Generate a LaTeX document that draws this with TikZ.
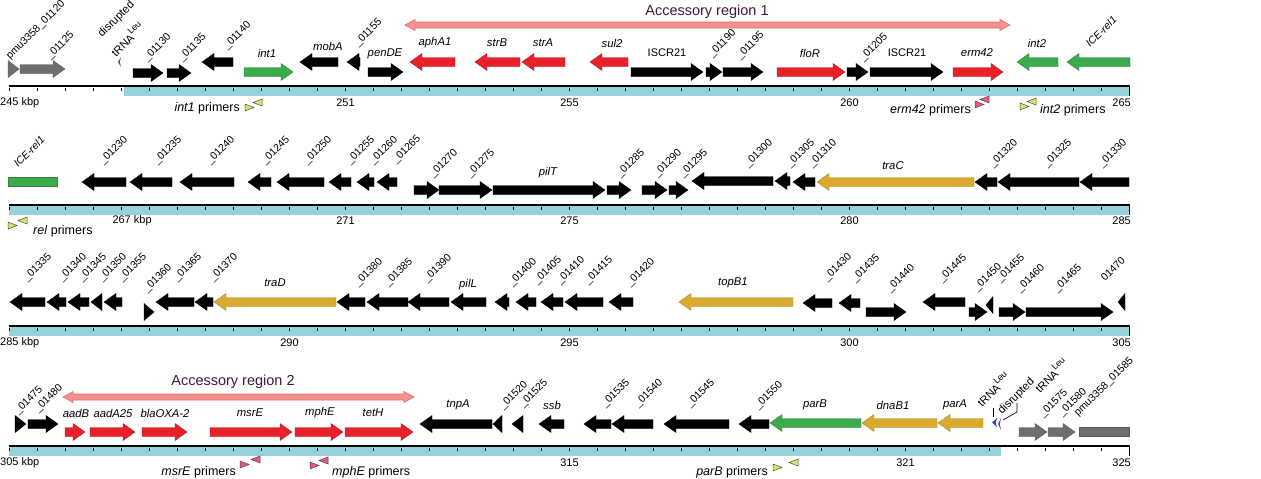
\documentclass[tikz,border=0pt]{standalone}
\usepackage{fontspec}
\setmainfont{Liberation Sans}
\usetikzlibrary{calc}

\definecolor{gred}{HTML}{E8202A}
\definecolor{ggreen}{HTML}{3BAA48}
\definecolor{ggold}{HTML}{D9AA2F}
\definecolor{ggray}{HTML}{6E6E6E}
\definecolor{band}{HTML}{97D1DA}
\definecolor{accfill}{HTML}{F39090}
\definecolor{accdraw}{HTML}{EC6A6A}
\definecolor{acctext}{HTML}{44163F}
\definecolor{primgreen}{HTML}{D2E46A}
\definecolor{primpink}{HTML}{E8557E}
\definecolor{trnablue}{HTML}{1F4FB5}
\definecolor{trnapurple}{HTML}{7A2FA0}

% forward gene: from, to, y, colour
\newcommand{\genefwd}[4]{%
  \pgfmathsetmacro{\hx}{max(#1,#2-12)}
  \filldraw[fill=#4, draw=#4!80!black, line width=0.4pt] (#1,#3-4.5) -- (\hx,#3-4.5) -- (\hx,#3-8.5) -- (#2,#3)
    -- (\hx,#3+8.5) -- (\hx,#3+4.5) -- (#1,#3+4.5) -- cycle;}
% reverse gene: tip, tail, y, colour
\newcommand{\generev}[4]{%
  \pgfmathsetmacro{\hx}{min(#2,#1+12)}
  \filldraw[fill=#4, draw=#4!80!black, line width=0.4pt] (#2,#3-4.5) -- (\hx,#3-4.5) -- (\hx,#3-8.5) -- (#1,#3)
    -- (\hx,#3+8.5) -- (\hx,#3+4.5) -- (#2,#3+4.5) -- cycle;}
% axis: y, band start, band end
\newcommand{\genomeaxis}[3]{%
  \fill[band] (#2,#1+0.6) rectangle (#3,#1+10);
  \draw[line width=1.2pt] (8.5,#1) -- (1130,#1);
  \foreach \i in {0,...,40} \draw[line width=0.7pt] (9.5+28*\i,#1+2) -- (9.5+28*\i,#1+4.5);
  \draw[line width=0.8pt] (1129.5,#1-1.5) -- (1129.5,#1+10);}
% accessory region arrow: x1, x2, y
\newcommand{\accregion}[3]{%
  \filldraw[fill=accfill, draw=accdraw, line width=0.6pt] (#1,#3) -- (#1+10,#3-5.5) -- (#1+10,#3-3) -- (#2-10,#3-3)
    -- (#2-10,#3-5.5) -- (#2,#3) -- (#2-10,#3+5.5) -- (#2-10,#3+3) -- (#1+10,#3+3) -- (#1+10,#3+5.5) -- cycle;}
% primer pair: left edge, right edge, y, colour
\newcommand{\primerpair}[4]{%
  \filldraw[fill=#4, draw=black!70, line width=0.5pt] (#1,#3) -- (#1,#3+7) -- (#1+9,#3+3.5) -- cycle;
  \filldraw[fill=#4, draw=black!70, line width=0.5pt] (#2,#3-5) -- (#2,#3+2) -- (#2-9,#3-1.5) -- cycle;}
\newcommand{\leu}{\raisebox{0.5em}{\fontsize{8.8}{10}\selectfont Leu}}

\begin{document}
\begin{tikzpicture}[x=1pt, y=-1pt,
    locus/.style={rotate=45, anchor=base west, inner sep=0pt, font=\fontsize{10.5}{12}\selectfont},
    trnalabel/.style={locus, font=\fontsize{11.2}{13}\selectfont},
    genelabel/.style={inner sep=0pt, font=\fontsize{11.3}{13}\selectfont\itshape},
    plainlabel/.style={inner sep=0pt, font=\fontsize{11}{13}\selectfont},
    primerlabel/.style={inner sep=0pt, font=\fontsize{12.5}{15}\selectfont},
    regionlabel/.style={inner sep=0pt, text=acctext, font=\fontsize{14.5}{17}\selectfont}]

  \useasboundingbox (0,0) rectangle (1261,479);

  \genomeaxis{86}{124}{1129.5}
  \genomeaxis{205}{8.5}{1129.5}
  \genomeaxis{326}{8.5}{1129.5}
  \genomeaxis{446}{8.5}{1001}

  \foreach \a/\b/\y/\c in {8/19/69/ggray, 20/65/69/ggray, 133/163/73/black, 167/191/73/black, 244/293/72/ggreen,
      368/403/72/black, 631/703/72/black, 706/722/72/black, 723/763/72/black, 777/845/72/gred, 847/868/72/black,
      870/943/72/black, 953/1003/72/gred,
      414/439/190/black, 439/492/190/black, 493/605/190/black, 607/631/190/black, 642/667/190/black, 669/688/190/black,
      144/154/312/black, 866/906/312/black, 969/987/312/black, 999/1025/312/black, 1026/1113/312/black,
      15/26/424/black, 28/58/424/black, 65/85/432/gred, 90/135/432/gred, 142/187/432/gred, 210/292/432/gred,
      295/343/432/gred, 345/413/432/gred, 1019/1047/432/ggray, 1048/1075/432/ggray}
    \genefwd{\a}{\b}{\y}{\c};

  \foreach \a/\b/\y/\c in {202/233/62/black, 300/338/62/black, 347/360/62/black, 410/455/62/gred, 475/520/62/gred,
      522/565/62/gred, 590/628/62/gred, 1017/1058/62/ggreen, 1067/1130/62/ggreen,
      82/126/182/black, 130/172/182/black, 180/234/182/black, 248/271/182/black, 277/324/182/black, 329/351/182/black,
      357/374/182/black, 377/397/182/black, 692/773/181/black, 775/790/181/black, 793/815/182/black, 817/974/182/ggold,
      975/997/182/black, 998/1079/182/black, 1080/1129/182/black,
      10/45/302/black, 47/66/302/black, 68/89/302/black, 91/102/302/black, 104/122/302/black, 156/194/302/black,
      195/213/302/black, 214/336/302/ggold, 337/365/302/black, 367/408/302/black, 408/449/302/black, 451/486/302/black,
      495/509/302/black, 516/536/302/black, 541/563/302/black, 565/603/302/black, 609/633/302/black, 679/793/302/ggold,
      803/832/303/black, 839/860/303/black, 923/965/302/black, 986/993/305/black, 1118/1125/302/black,
      420/492/424/black, 493/502/424/black, 512/523/424/black, 539/564/424/black, 584/611/424/black, 612/653/424/black,
      664/729/424/black, 739/769/424/black, 770/861/423/ggreen, 862/937/423/ggold, 938/983/423/ggold}
    \generev{\a}{\b}{\y}{\c};

  \filldraw[fill=ggreen, draw=ggreen!80!black, line width=0.4pt] (8,177.5) rectangle (57,186.5);
  \filldraw[fill=ggray, draw=ggray!80!black, line width=0.4pt] (1079,427.5) rectangle (1129,436.5);

  % tRNA genes
  \fill[trnapurple] (121,57) -- (118,62) -- (121,67) -- (119.8,62) -- cycle;
  \fill[trnablue] (997,418) -- (992,422.5) -- (997,427) -- (995.5,422.5) -- cycle;
  \fill[trnapurple] (1001,418) -- (998,424) -- (1001,430) -- (999.8,424) -- cycle;

  \accregion{405}{1010}{25}
  \accregion{63}{414}{397}
  \node[regionlabel] (acc1) at (707,12) {Accessory region 1};
  \node[regionlabel] (acc2) at (233,382) {Accessory region 2};

  \foreach \n/\x/\y in {01125/50/60, 01130/147/62, 01135/182/62, 01140/227/50, 01155/358/47, 01190/712/58,
      01195/740/60, 01205/863/62,
      01230/103/165, 01235/157/165, 01240/210/165, 01245/265/165, 01250/307/165, 01255/350/165, 01260/373/165,
      01265/396/164, 01270/433/178, 01275/470/178, 01285/620/178, 01290/657/178, 01295/683/178, 01300/748/168,
      01305/790/168, 01310/812/168, 01320/993/168, 01325/1047/168, 01330/1102/168,
      01335/27/282, 01340/62/282, 01345/82/282, 01350/102/282, 01355/122/282, 01360/147/293, 01365/177/282,
      01370/213/282, 01380/358/287, 01385/388/287, 01390/427/283, 01400/512/287, 01405/537/285, 01410/560/285,
      01415/588/285, 01420/630/287, 01430/827/282, 01435/855/283, 01440/890/293, 01445/942/283, 01450/977/292,
      01455/1000/283, 01460/1020/293, 01465/1057/293,
      01475/18/415, 01480/38/413, 01520/503/410, 01525/523/408, 01535/605/408, 01540/638/408, 01545/690/408,
      01550/758/410, 01575/1043/418, 01580/1062/417}
    \node[locus] (l\n) at (\x,\y) {\_\n};
  \node[locus] (l01120) at (10,60) {pmu3358\_01120};
  \node[locus] (l01585) at (1078,417) {pmu3358\_01585};
  \node[locus] (l01470) at (1105,282) {01470};
  \node[locus, font=\fontsize{10.5}{12}\selectfont\itshape] (ice1) at (1090,48) {ICE-rel1};
  \node[locus, font=\fontsize{10.5}{12}\selectfont\itshape] (ice2) at (18,168) {ICE-rel1};

  \node[trnalabel] (disr1) at (102,38) {disrupted};
  \node[trnalabel] (trna1) at (116,58) {tRNA\leu};
  \node[trnalabel] (trna2) at (982,408) {tRNA\leu};
  \node[trnalabel] (disr2) at (1002,415) {disrupted};
  \node[trnalabel] (trna3) at (1040,394) {tRNA\leu};
  \coordinate (trnaA) at (993,408);
  \coordinate (trnaB) at (993,417);
  \coordinate (disrA) at (1017,403);
  \coordinate (disrB) at (1017,412);
  \coordinate (disrC) at (1003,420);
  \draw[line width=0.6pt] (trnaA) -- (trnaB);
  \draw[line width=0.6pt] (disrA) -- (disrB) -- (disrC);

  \foreach \n/\x/\y/\t in {int1/267/53/int1, mobA/328/46/mobA, penDE/385/54/penDE, aphA1/435/43/aphA1,
      strB/497/43/strB, strA/543/43/strA, sul2/612/43/sul2, floR/810/53/floR, erm42/977/53/erm42,
      int2/1037/43/int2, pilT/548/173/pilT, traC/893/166/traC, traD/275/283/traD, pilL/468/285/pilL,
      topB1/733/283/topB1, aadB/76/413/aadB, aadA25/113/413/aadA25, blaOXA/165/413/blaOXA-2, msrE/250/413/msrE,
      mphE/320/413/mphE, tetH/373/413/tetH, tnpA/458/405/tnpA, ssb/552/405/ssb, parB/815/405/parB,
      dnaB1/893/405/dnaB1, parA/955/405/parA}
    \node[genelabel] (g\n) at (\x,\y) {\t};
  \node[plainlabel] (iscrA) at (667,53) {ISCR21};
  \node[plainlabel] (iscrB) at (907,53) {ISCR21};

  % scale labels
  \node[plainlabel, anchor=west] (k245) at (0,103) {245 kbp};
  \foreach \x/\t in {345.5/251, 569.5/255, 849.5/260} \node[plainlabel] (k\t) at (\x,103) {\t};
  \node[plainlabel, anchor=east] (k265) at (1131,103) {265};
  \node[plainlabel, anchor=west] (k267) at (112.3,221) {267 kbp};
  \foreach \x/\t in {345.5/271, 569.5/275, 849.5/280} \node[plainlabel] (k\t) at (\x,221) {\t};
  \node[plainlabel, anchor=east] (k285) at (1131,221) {285};
  \node[plainlabel, anchor=west] (k285b) at (0,343) {285 kbp};
  \foreach \x/\t in {289.5/290, 569.5/295, 849.5/300} \node[plainlabel] (k\t) at (\x,343) {\t};
  \node[plainlabel, anchor=east] (k305) at (1131,343) {305};
  \node[plainlabel, anchor=west] (k305b) at (0,463) {305 kbp};
  \foreach \x/\t in {569.5/315, 905.5/321} \node[plainlabel] (k\t) at (\x,463) {\t};
  \node[plainlabel, anchor=east] (k325) at (1131,463) {325};

  % primers
  \primerpair{245}{262}{104}{primgreen}
  \primerpair{975}{989}{101}{primpink}
  \primerpair{1020}{1036}{103}{primgreen}
  \primerpair{8}{27}{222}{primgreen}
  \primerpair{240}{260}{461}{primpink}
  \primerpair{310}{328}{462}{primpink}
  \primerpair{773}{798}{464}{primgreen}
  \node[primerlabel, anchor=east] (pint1) at (240,108) {\textit{int1} primers};
  \node[primerlabel, anchor=east] (perm42) at (971,110) {\textit{erm42} primers};
  \node[primerlabel, anchor=west] (pint2) at (1040,110) {\textit{int2} primers};
  \node[primerlabel, anchor=west] (prel) at (33,231) {\textit{rel} primers};
  \node[primerlabel, anchor=east] (pmsrE) at (236,472) {\textit{msrE} primers};
  \node[primerlabel, anchor=west] (pmphE) at (332,472) {\textit{mphE} primers};
  \node[primerlabel, anchor=east] (pparB) at (768,472) {\textit{parB} primers};

\end{tikzpicture}
\end{document}
